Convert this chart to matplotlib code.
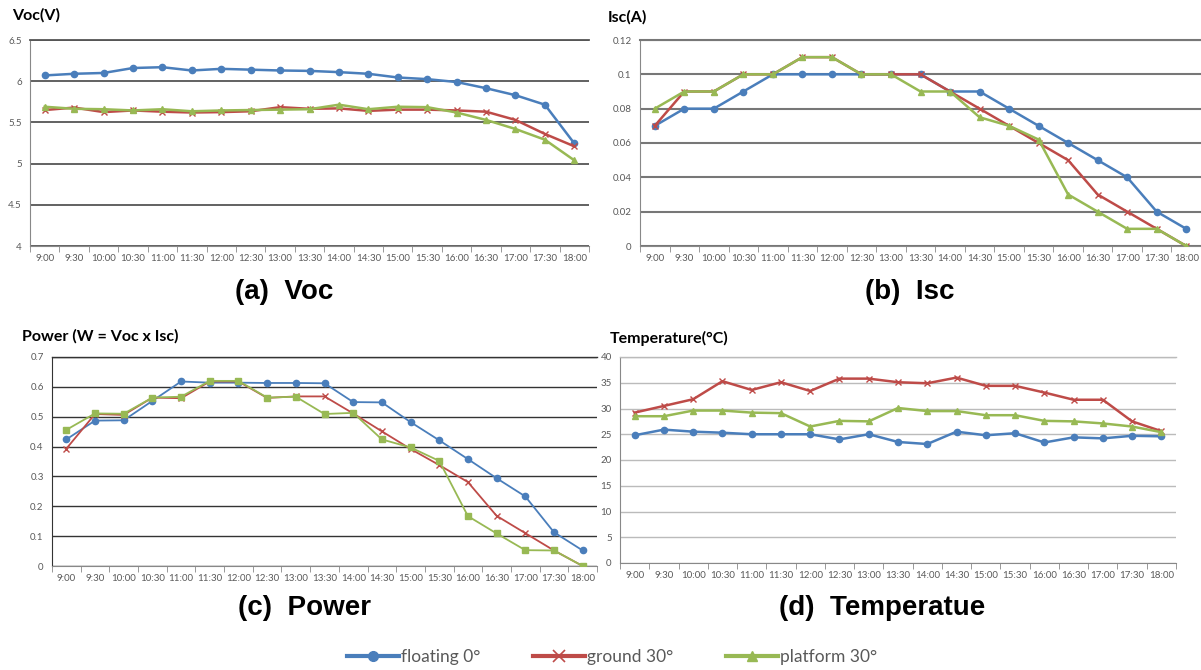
import matplotlib
matplotlib.use("Agg")
import matplotlib.pyplot as plt
from matplotlib.lines import Line2D
from matplotlib.ticker import FixedLocator, MultipleLocator

W, H = 1201, 670

times = ["9:00", "9:30", "10:00", "10:30", "11:00", "11:30", "12:00", "12:30", "13:00",
         "13:30", "14:00", "14:30", "15:00", "15:30", "16:00", "16:30", "17:00", "17:30", "18:00"]
series_names = ["floating 0°", "ground 30°", "platform 30°"]

voc_floating = [6.07, 6.09, 6.10, 6.16, 6.17, 6.13, 6.15, 6.14, 6.13, 6.125, 6.11, 6.09,
                6.045, 6.025, 5.99, 5.915, 5.83, 5.715, 5.245]
voc_ground = [5.65, 5.68, 5.625, 5.645, 5.63, 5.62, 5.625, 5.635, 5.685, 5.665, 5.67, 5.64,
              5.655, 5.655, 5.645, 5.63, 5.53, 5.36, 5.21]
voc_platform = [5.69, 5.665, 5.66, 5.645, 5.66, 5.635, 5.645, 5.65, 5.655, 5.66, 5.715, 5.66,
                5.69, 5.685, 5.62, 5.53, 5.42, 5.29, 5.04]

isc_floating = [0.07, 0.08, 0.08, 0.09, 0.10, 0.10, 0.10, 0.10, 0.10, 0.10, 0.09, 0.09,
                0.08, 0.07, 0.06, 0.05, 0.04, 0.02, 0.01]
isc_ground = [0.07, 0.09, 0.09, 0.10, 0.10, 0.11, 0.11, 0.10, 0.10, 0.10, 0.09, 0.08,
              0.07, 0.06, 0.05, 0.03, 0.02, 0.01, 0.00]
isc_platform = [0.08, 0.09, 0.09, 0.10, 0.10, 0.11, 0.11, 0.10, 0.10, 0.09, 0.09, 0.075,
                0.07, 0.062, 0.03, 0.02, 0.01, 0.01, 0.00]

pow_floating = [0.424, 0.487, 0.488, 0.553, 0.618, 0.614, 0.614, 0.613, 0.613, 0.612, 0.549,
                0.548, 0.482, 0.421, 0.358, 0.294, 0.233, 0.113, 0.052]
pow_ground = [0.393, 0.509, 0.506, 0.564, 0.562, 0.618, 0.618, 0.563, 0.568, 0.568, 0.511,
              0.451, 0.392, 0.338, 0.281, 0.168, 0.110, 0.052, 0.0]
pow_platform = [0.456, 0.511, 0.510, 0.564, 0.567, 0.620, 0.620, 0.564, 0.567, 0.509, 0.513,
                0.424, 0.397, 0.352, 0.167, 0.109, 0.053, 0.052, 0.0]

temp_floating = [24.8, 25.9, 25.5, 25.3, 25.0, 25.0, 25.0, 24.0, 25.0, 23.5, 23.1, 25.5,
                 24.8, 25.2, 23.4, 24.4, 24.2, 24.7, 24.6]
temp_ground = [29.2, 30.5, 31.8, 35.3, 33.6, 35.1, 33.4, 35.8, 35.8, 35.1, 34.9, 36.0,
               34.4, 34.4, 33.1, 31.7, 31.7, 27.5, 25.6]
temp_platform = [28.5, 28.5, 29.6, 29.6, 29.2, 29.1, 26.5, 27.6, 27.5, 30.1, 29.5, 29.5,
                 28.7, 28.7, 27.6, 27.5, 27.1, 26.5, 25.4]

BLUE, RED, GREEN = "#4A7EBB", "#BE4B48", "#98B954"
TXT = "#595959"
TFONT = ["Lato", "DejaVu Sans"]
CFONT = ["Liberation Sans", "DejaVu Sans"]

fig = plt.figure(figsize=(W / 100, H / 100), dpi=100)
fig.patch.set_facecolor("white")


def rect(l, r, t, b):
    return [l / W, 1 - b / H, (r - l) / W, (b - t) / H]


def gfmt(v, p):
    s = ("%.2f" % v).rstrip("0").rstrip(".")
    return s if s != "-0" else "0"


def setup(ax, ylo, yhi, ystep, grid_color, grid_lw, left_color="#888888"):
    x = list(range(len(times)))
    ax.set_xlim(-0.5, len(times) - 0.5)
    ax.set_ylim(ylo, yhi)
    ax.xaxis.set_major_locator(FixedLocator(x))
    ax.set_xticklabels(times, fontsize=7, color=TXT, family=TFONT)
    ax.xaxis.set_minor_locator(FixedLocator([i - 0.5 for i in range(len(times) + 1)]))
    ax.tick_params(axis="x", which="major", length=0, pad=6)
    ax.tick_params(axis="x", which="minor", length=4, color="#888888", direction="out")
    ax.yaxis.set_major_locator(MultipleLocator(ystep))
    ax.yaxis.set_major_formatter(gfmt)
    ax.tick_params(axis="y", length=0, labelsize=7, labelcolor=TXT, pad=6)
    for lab in ax.get_yticklabels():
        lab.set_family(TFONT)
    ax.grid(axis="y", color=grid_color, lw=grid_lw)
    ax.set_axisbelow(True)
    ax.spines["right"].set_visible(False)
    ax.spines["top"].set_color(grid_color)
    ax.spines["top"].set_linewidth(grid_lw)
    ax.spines["left"].set_color(left_color)
    ax.spines["bottom"].set_color("#888888")
    ax.spines["left"].set_linewidth(0.8)
    ax.spines["bottom"].set_linewidth(0.8)


def draw(ax, a, b, c, lw=1.8, gm="^"):
    x = list(range(len(times)))
    ax.plot(x, a, color=BLUE, lw=lw, marker="o", ms=4.5, zorder=3)
    ax.plot(x, b, color=RED, lw=lw, marker="x", ms=5, mew=1, zorder=3)
    ax.plot(x, c, color=GREEN, lw=lw, marker=gm, ms=4.5, zorder=3)


# (a) Voc
axa = fig.add_axes(rect(30, 589, 40, 246))
draw(axa, voc_floating, voc_ground, voc_platform)
setup(axa, 4, 6.5, 0.5, "#555555", 1.3)

# (b) Isc
axb = fig.add_axes(rect(640, 1201, 40, 246))
draw(axb, isc_floating, isc_ground, isc_platform)
setup(axb, 0, 0.12, 0.02, "#777777", 1.5)

# (c) Power
axc = fig.add_axes(rect(52, 597, 357, 566))
draw(axc, pow_floating, pow_ground, pow_platform, lw=1.3, gm="s")
setup(axc, 0, 0.7, 0.1, "#333333", 1.0, left_color="#333333")

# (d) Temperature
axd = fig.add_axes(rect(620, 1176, 357, 563))
draw(axd, temp_floating, temp_ground, temp_platform)
setup(axd, 0, 40, 5, "#BBBBBB", 1.0)

# panel titles
for xp, yp, s in [(12, 15, "Voc(V)"), (608, 17, "Isc(A)"),
                  (22, 336, "Power (W = Voc x Isc)"), (610, 338, "Temperature(°C)")]:
    fig.text(xp / W, 1 - yp / H, s, fontsize=11.5, fontweight="bold", family=TFONT,
             va="center", ha="left")

# captions
for xc, yc, s in [(284, 292, "(a)  Voc"), (910, 292, "(b)  Isc"),
                  (304, 608, "(c)  Power"), (882, 608, "(d)  Temperatue")]:
    fig.text(xc / W, 1 - yc / H, s, fontsize=20, fontweight="bold", family=CFONT,
             ha="center", va="center")

handles = [Line2D([], [], color=BLUE, lw=3, marker="o", ms=7),
           Line2D([], [], color=RED, lw=3, marker="x", ms=8, mew=1.2),
           Line2D([], [], color=GREEN, lw=3, marker="^", ms=7)]
fig.legend(handles, series_names, loc="center", bbox_to_anchor=(612 / W, 1 - 657 / H), ncol=3,
           frameon=False, prop={"family": TFONT, "size": 12.5}, handlelength=3.0,
           columnspacing=3.0, handletextpad=0.15, labelcolor=TXT)

fig.savefig("out.png", dpi=100, facecolor="white")
